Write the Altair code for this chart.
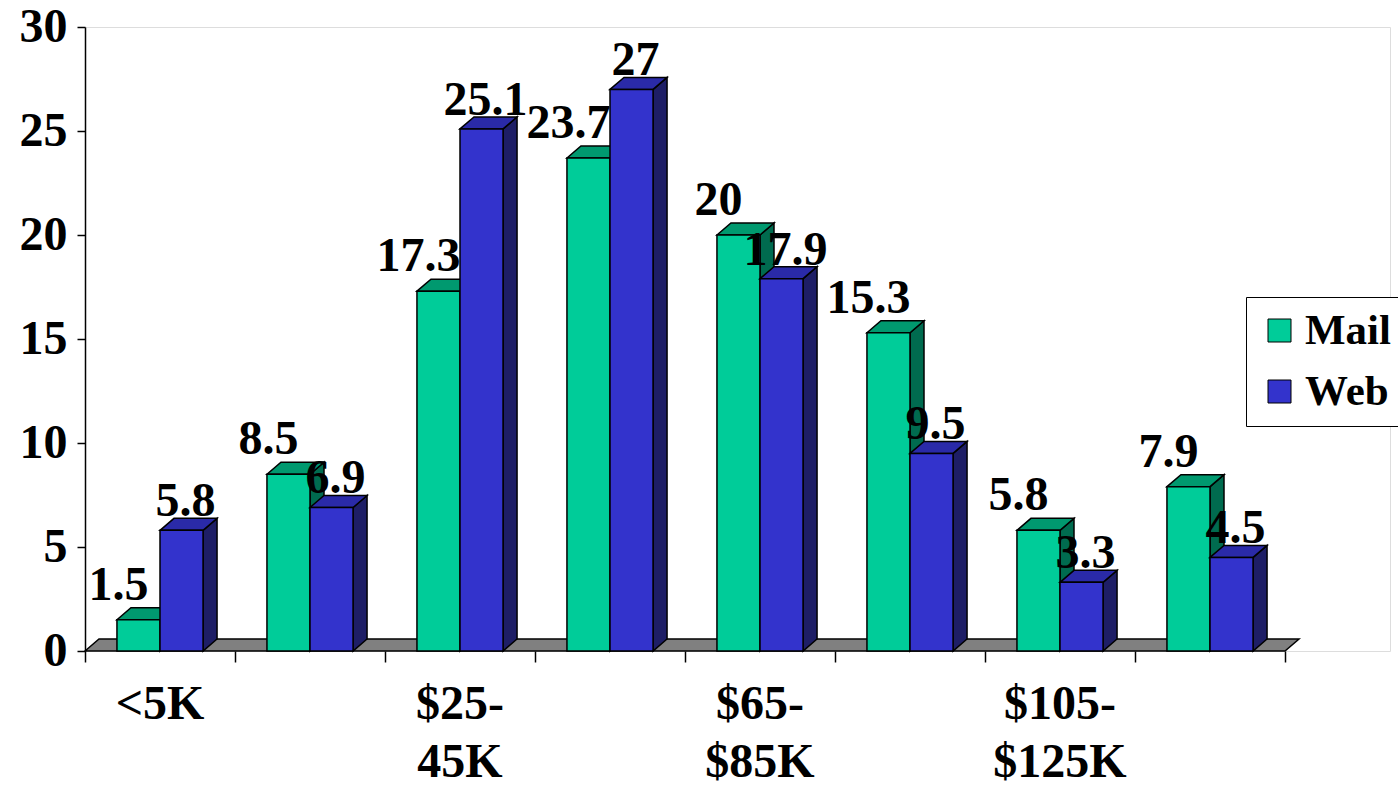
import altair as alt
import pandas as pd

# ---- data ----
categories = ["<5K", "$5-25K", "$25-45K", "$45-65K", "$65-$85K", "$85-$105K", "$105-$125K", ">$125K"]
shown_categories = ["<5K", "$25-45K", "$65-$85K", "$105-$125K"]
series = ["Mail", "Web"]
mail_values = [1.5, 8.5, 17.3, 23.7, 20, 15.3, 5.8, 7.9]
web_values = [5.8, 6.9, 25.1, 27, 17.9, 9.5, 3.3, 4.5]
y_ticks = [0, 5, 10, 15, 20, 25, 30]

# ---- styling ----
front_colors = {"Mail": "#00CC99", "Web": "#3333CC"}
top_colors = {"Mail": "#00996F", "Web": "#2A2AA8"}
side_colors = {"Mail": "#006B4F", "Web": "#1E1E66"}
label_dx = {"Mail": -20, "Web": 4}
label_dy = {"Mail": -20, "Web": -14}
FONT = "Liberation Serif"
GROUP_START = 0.213   # fraction of category band where the bar pair starts
BAR_W = 0.287         # bar width in category units
DEPTH_X = 14 / 150    # 3D depth, x units
DEPTH_Y = 12 / 20.8   # 3D depth, y units

rows, faces = [], []
for s_idx, (s, vals) in enumerate([("Mail", mail_values), ("Web", web_values)]):
    for i, v in enumerate(vals):
        x0 = i + GROUP_START + s_idx * BAR_W
        x1 = x0 + BAR_W
        rows.append(dict(series=s, cat=categories[i], value=v, x0=x0, x1=x1,
                         xm=(x0 + x1) / 2, label=f"{v:g}"))
        # side face (parallelogram)
        fid = f"{s}-{i}-side"
        faces.append(dict(series=s, face=fid, fill=side_colors[s], x=x1, y=v, y2=0))
        faces.append(dict(series=s, face=fid, fill=side_colors[s], x=x1 + DEPTH_X, y=v + DEPTH_Y, y2=DEPTH_Y))
        # top face (parallelogram)
        fid = f"{s}-{i}-top"
        faces.append(dict(series=s, face=fid, fill=top_colors[s], x=x0, y=v, y2=v))
        faces.append(dict(series=s, face=fid, fill=top_colors[s], x=x0 + DEPTH_X, y=v + DEPTH_Y, y2=v))
        faces.append(dict(series=s, face=fid, fill=top_colors[s], x=x1, y=v + DEPTH_Y, y2=v))
        faces.append(dict(series=s, face=fid, fill=top_colors[s], x=x1 + DEPTH_X, y=v + DEPTH_Y, y2=v + DEPTH_Y))

bars = pd.DataFrame(rows)
faces = pd.DataFrame(faces)

n = len(categories)
floor = pd.DataFrame([
    dict(x=0, y=0, y2=0),
    dict(x=DEPTH_X, y=DEPTH_Y, y2=0),
    dict(x=n, y=DEPTH_Y, y2=0),
    dict(x=n + DEPTH_X, y=DEPTH_Y, y2=DEPTH_Y),
])

cat_labels = pd.DataFrame([
    dict(x=categories.index(c) + 0.5, y=0, text=c.replace("-", "-\n"))
    for c in shown_categories
])

W_UNITS = 8.7
xscale = alt.Scale(domain=[0, W_UNITS], nice=False, zero=False)
yscale = alt.Scale(domain=[0, 30], nice=False)
color_scale = alt.Scale(domain=series, range=[front_colors[s] for s in series])

x_axis = alt.Axis(values=list(range(n + 1)), labels=False, tickSize=11, tickColor="black",
                  tickWidth=1.5, domain=False, grid=False, title=None)
y_axis = alt.Axis(values=y_ticks, tickSize=8, tickColor="black", tickWidth=1.5,
                  domainColor="black", domainWidth=1.5, grid=False, title=None,
                  labelFont=FONT, labelFontSize=48, labelFontWeight="bold",
                  labelColor="black", labelPadding=10)

floor_layer = alt.Chart(floor).mark_area(color="#808080", stroke="black", strokeWidth=1.5).encode(
    x=alt.X("x:Q", scale=xscale, axis=x_axis),
    y=alt.Y("y:Q", scale=yscale, axis=y_axis, stack=None),
    y2="y2:Q",
)


def face_layer(s):
    return alt.Chart(faces[faces.series == s]).mark_area(stroke="black", strokeWidth=1.5).encode(
        x=alt.X("x:Q", scale=xscale),
        y=alt.Y("y:Q", scale=yscale, stack=None),
        y2="y2:Q",
        detail="face:N",
        fill=alt.Fill("fill:N", scale=None),
    )


def front_layer(s):
    return alt.Chart(bars[bars.series == s]).mark_rect(stroke="black", strokeWidth=1.5).encode(
        x=alt.X("x0:Q", scale=xscale),
        x2="x1:Q",
        y=alt.Y("value:Q", scale=yscale),
        y2=alt.datum(0),
        color=alt.Color("series:N", scale=color_scale, legend=alt.Legend(
            title=None, orient="none", legendX=1161, legendY=270,
            strokeColor="black", fillColor="white", padding=12,
            symbolType="square", symbolSize=529, symbolStrokeColor="black",
            symbolStrokeWidth=1, symbolOpacity=1,
            labelFont=FONT, labelFontSize=43, labelFontWeight="bold", labelColor="black",
            labelOffset=4, rowPadding=17,
        )),
    )


def label_layer(s):
    return alt.Chart(bars[bars.series == s]).mark_text(
        font=FONT, fontSize=48, fontWeight="bold", color="black",
        align="center", baseline="alphabetic", dx=label_dx[s], dy=label_dy[s],
    ).encode(
        x=alt.X("xm:Q", scale=xscale),
        y=alt.Y("value:Q", scale=yscale),
        text="label:N",
    )


category_text = alt.Chart(cat_labels).mark_text(
    font=FONT, fontSize=48, fontWeight="bold", color="black",
    align="center", baseline="alphabetic", dy=68, lineBreak="\n", lineHeight=58,
).encode(
    x=alt.X("x:Q", scale=xscale),
    y=alt.Y("y:Q", scale=yscale),
    text="text:N",
)

chart = alt.layer(
    floor_layer,
    face_layer("Mail"),
    front_layer("Mail"),
    face_layer("Web"),
    front_layer("Web"),
    label_layer("Mail"),
    label_layer("Web"),
    category_text,
).properties(
    width=int(W_UNITS * 150),
    height=624,
    autosize=alt.AutoSizeParams(type="none"),
    padding={"left": 85, "top": 27, "right": 1398 - 85 - int(W_UNITS * 150), "bottom": 138},
).configure_view(stroke=None).configure(background="white")

chart.save("out.html", embed_options={"renderer": "svg", "actions": False})
